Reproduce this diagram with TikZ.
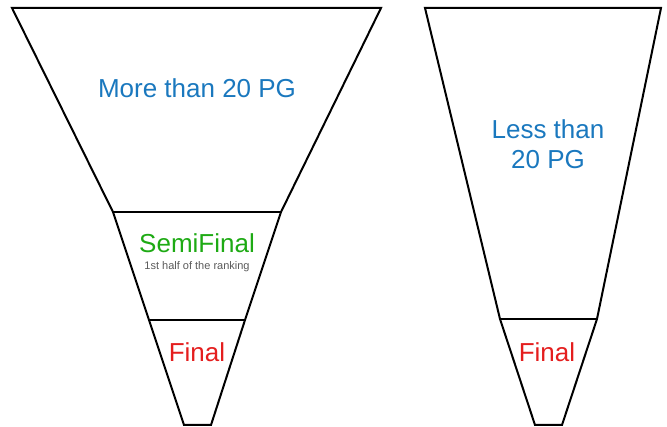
\documentclass[tikz,border=0pt]{standalone}
\usepackage{fontspec}
\setmainfont{Liberation Sans}
\definecolor{cblue}{RGB}{26,120,190}
\definecolor{cgreen}{RGB}{30,170,20}
\definecolor{cred}{RGB}{228,30,30}
\definecolor{cgray}{RGB}{90,90,90}
\tikzset{
  funnel/.style={draw=black,line width=2pt,line join=miter},
  big/.style={font=\fontsize{26}{30}\selectfont,inner sep=0pt,align=center},
  small/.style={font=\fontsize{11}{13}\selectfont,inner sep=0pt,text=cgray}
}
\begin{document}
\begin{tikzpicture}[x=1pt,y=-1pt]
\useasboundingbox (0,0) rectangle (667,427);
% left funnel
\draw[funnel] (12,8) -- (381,8) -- (281,212) -- (245,320) -- (211,425) -- (184,425) -- (149,320) -- (113,212) -- cycle;
\draw[funnel] (113,212) -- (281,212);
\draw[funnel] (149,320) -- (245,320);
% right funnel
\draw[funnel] (425,8) -- (661,8) -- (597,319) -- (562,425) -- (535,425) -- (500,319) -- cycle;
\draw[funnel] (500,319) -- (597,319);
% texts
\node[big,text=cblue] (more) at (197,88) {More than 20 PG};
\node[big,text=cgreen] (semi) at (197,243) {SemiFinal};
\node[small] (half) at (197,267) {1st half of the ranking};
\node[big,text=cred] (finL) at (197,352) {Final};
\node[big,text=cblue] (less) at (548,144) {Less than\\20 PG};
\node[big,text=cred] (finR) at (547,352) {Final};
\end{tikzpicture}
\end{document}
